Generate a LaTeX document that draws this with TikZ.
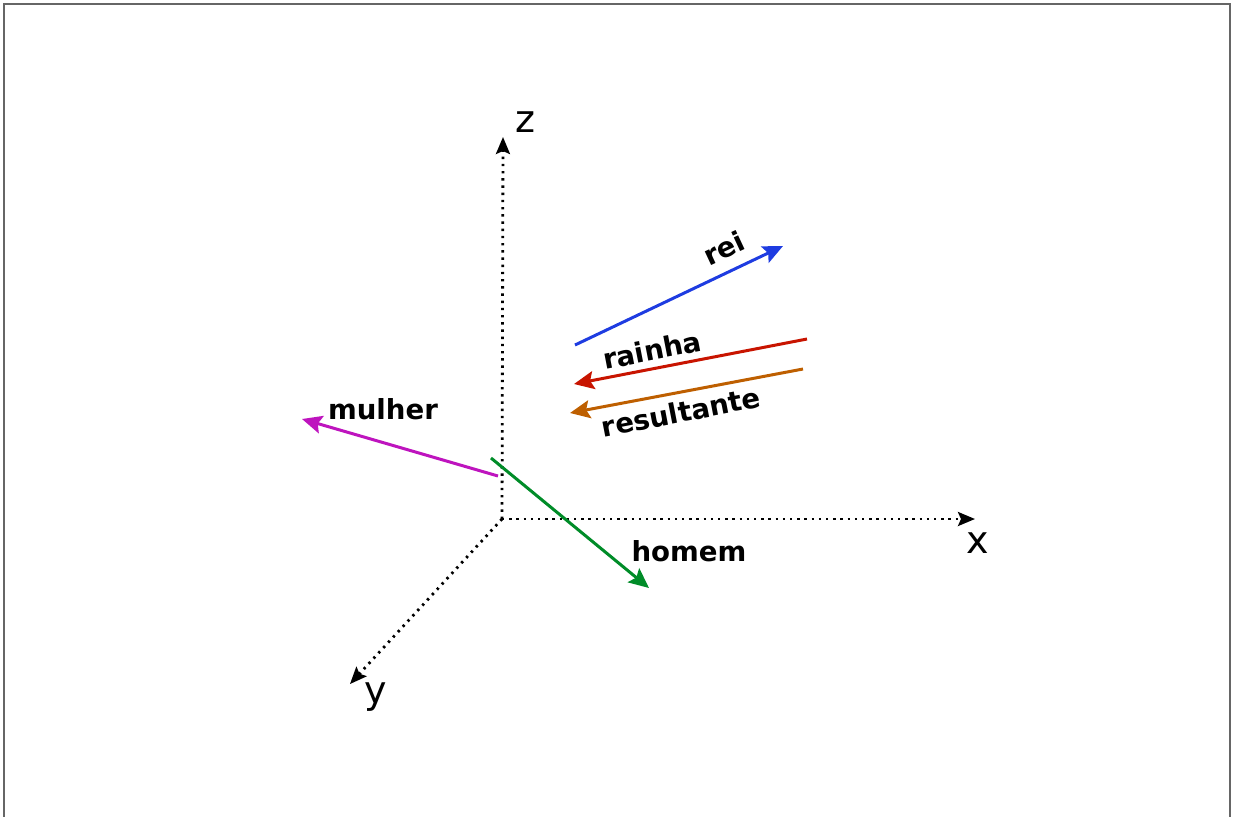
\documentclass[tikz,border=0pt]{standalone}
\usepackage{fontspec}
\setmainfont{DejaVu Sans}
\usetikzlibrary{arrows.meta}
\definecolor{reiBlue}{RGB}{30,60,225}
\definecolor{rainhaRed}{RGB}{200,20,0}
\definecolor{resOrange}{RGB}{190,95,0}
\definecolor{mulherMag}{RGB}{190,20,190}
\definecolor{homemGreen}{RGB}{0,140,40}

\begin{document}
\begin{tikzpicture}[x=0.5pt, y=-0.5pt,
    axis/.style={dash pattern=on 1.2pt off 2.4pt, line width=1.4pt,
                 -{Stealth[length=8.5pt, width=7pt, inset=1.5pt]}},
    axlabel/.style={font=\fontsize{19}{22}\selectfont, inner sep=0pt},
    vec/.style={line width=1.5pt, -{Stealth[length=10pt, width=9pt, inset=1.8pt]}},
    veclabel/.style={font=\fontsize{13.8}{16}\selectfont\bfseries, inner sep=0pt}
  ]
  \useasboundingbox (0,0) rectangle (1233,816);
  \draw[black!60, line width=1pt] (4,820) -- (4,4) -- (1230,4) -- (1230,820);

  % axes
  \coordinate (O) at (502,519);
  \coordinate (zEnd) at (503,137);
  \coordinate (xEnd) at (975,519);
  \coordinate (yEnd) at (350,684);
  \draw[axis] (O) -- (zEnd);
  \draw[axis] (O) -- (xEnd);
  \draw[axis] (O) -- (yEnd);
  \node[axlabel] (zLab) at (525,122) {z};
  \node[axlabel] (xLab) at (978,543) {x};
  \node[axlabel] (yLab) at (376,697) {y};

  % word vectors
  \coordinate (reiS) at (575,345);   \coordinate (reiE) at (783,246);
  \coordinate (rainhaS) at (807,339); \coordinate (rainhaE) at (574,384);
  \coordinate (resS) at (803,369);   \coordinate (resE) at (570,413);
  \coordinate (mulherS) at (498,476); \coordinate (mulherE) at (302,419);
  \coordinate (homemS) at (491,458); \coordinate (homemE) at (649,588);

  \draw[vec, reiBlue] (reiS) -- (reiE);
  \draw[vec, rainhaRed] (rainhaS) -- (rainhaE);
  \draw[vec, resOrange] (resS) -- (resE);
  \draw[vec, mulherMag] (mulherS) -- (mulherE);
  \draw[vec, homemGreen] (homemS) -- (homemE);

  \node[veclabel, rotate=25] (reiLab) at (724,248) {rei};
  \node[veclabel, rotate=11] (rainhaLab) at (652,350) {rainha};
  \node[veclabel, rotate=11] (resLab) at (681,412) {resultante};
  \node[veclabel] (mulherLab) at (383,409) {mulher};
  \node[veclabel] (homemLab) at (689,551) {homem};
\end{tikzpicture}
\end{document}
